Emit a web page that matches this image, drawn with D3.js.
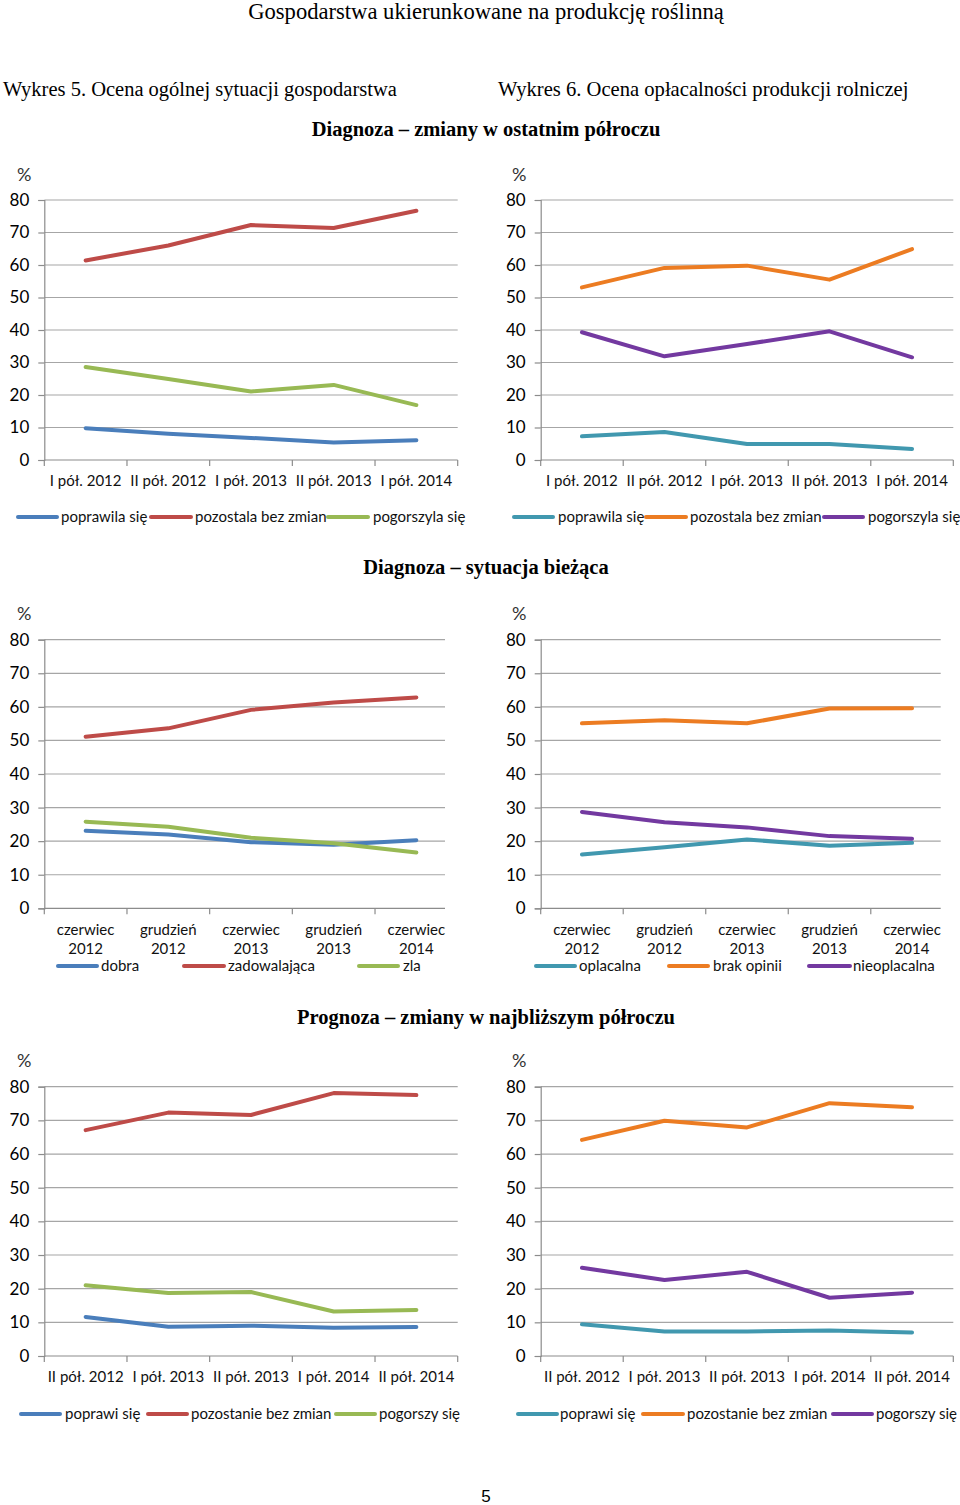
<!DOCTYPE html>
<html>
<head>
<meta charset="utf-8">
<script src="https://cdn.jsdelivr.net/npm/d3@7"></script>
<style>
  body { margin: 0; background: #fff; }
  svg { display: block; }
</style>
</head>
<body>
<div id="page"></div>
<script>
(function() {

// ---- data ----
let halfYears1 = ["I pół. 2012", "II pół. 2012", "I pół. 2013", "II pół. 2013", "I pół. 2014"];
let months = [["czerwiec", "2012"], ["grudzień", "2012"], ["czerwiec", "2013"], ["grudzień", "2013"], ["czerwiec", "2014"]];
let halfYears2 = ["II pół. 2012", "I pół. 2013", "II pół. 2013", "I pół. 2014", "II pół. 2014"];
let yTicks = [0, 10, 20, 30, 40, 50, 60, 70, 80];

// Wykres 5 - diagnoza, zmiany w ostatnim półroczu
let sit_poprawila = [9.8, 8.1, 6.8, 5.4, 6.1];
let sit_pozostala = [61.4, 66.0, 72.3, 71.4, 76.7];
let sit_pogorszyla = [28.6, 24.9, 21.1, 23.1, 16.9];
// Wykres 6 - diagnoza, zmiany w ostatnim półroczu
let opl_poprawila = [7.3, 8.6, 4.9, 4.9, 3.4];
let opl_pozostala = [53.1, 59.1, 59.8, 55.5, 64.9];
let opl_pogorszyla = [39.3, 31.9, 35.7, 39.6, 31.6];
// Wykres 5 - sytuacja bieżąca
let sit_dobra = [23.1, 22.0, 19.7, 18.9, 20.3];
let sit_zadowalajaca = [51.1, 53.6, 59.1, 61.3, 62.8];
let sit_zla = [25.8, 24.3, 21.0, 19.4, 16.6];
// Wykres 6 - sytuacja bieżąca
let opl_oplacalna = [16.0, 18.2, 20.5, 18.6, 19.5];
let opl_brakOpinii = [55.1, 56.0, 55.1, 59.5, 59.6];
let opl_nieoplacalna = [28.7, 25.6, 24.1, 21.5, 20.7];
// Wykres 5 - prognoza
let prog_sit_poprawi = [11.6, 8.7, 9.0, 8.4, 8.6];
let prog_sit_pozostanie = [67.1, 72.3, 71.6, 78.1, 77.5];
let prog_sit_pogorszy = [21.0, 18.7, 19.0, 13.2, 13.7];
// Wykres 6 - prognoza
let prog_opl_poprawi = [9.4, 7.3, 7.3, 7.6, 7.0];
let prog_opl_pozostanie = [64.2, 69.9, 67.9, 75.1, 73.9];
let prog_opl_pogorszy = [26.2, 22.6, 25.0, 17.3, 18.8];

let BLUE = "#4a7ebb", RED = "#be4b48", GREEN = "#98b954";
let TEAL = "#4198af", ORANGE = "#ec7c22", PURPLE = "#7339a0";

let chartFont = "Lato, 'Liberation Sans', sans-serif";
let serif = "'Liberation Serif', 'Times New Roman', serif";

let svg = d3.select("#page").append("svg")
  .attr("width", 960)
  .attr("height", 1505);

// page texts
function pageText(x, y, txt, size, weight, anchor) {
  svg.append("text")
    .attr("x", x).attr("y", y)
    .attr("text-anchor", anchor || "start")
    .style("font-family", serif)
    .style("font-size", size + "px")
    .style("font-weight", weight || "normal")
    .style("fill", "#000")
    .text(txt);
}
pageText(486, 19, "Gospodarstwa ukierunkowane na produkcję roślinną", 22.6, "normal", "middle");
pageText(3, 96, "Wykres 5. Ocena ogólnej sytuacji gospodarstwa", 20.5);
pageText(498, 96, "Wykres 6. Ocena opłacalności produkcji rolniczej", 20.6);
pageText(486, 136, "Diagnoza – zmiany w ostatnim półroczu", 20.5, "bold", "middle");
pageText(486, 574, "Diagnoza – sytuacja bieżąca", 20.5, "bold", "middle");
pageText(486, 1024, "Prognoza – zmiany w najbliższym półroczu", 20.5, "bold", "middle");
svg.append("text")
  .attr("x", 486).attr("y", 1502)
  .attr("text-anchor", "middle")
  .style("font-family", "'Liberation Sans', sans-serif")
  .style("font-size", "17px")
  .text("5");

function buildChart(o) {
  let g = svg.append("g");

  let x = d3.scaleBand()
    .domain(d3.range(o.categories.length))
    .range([o.x0, o.x1]);
  let y = d3.scaleLinear()
    .domain([0, 80])
    .range([o.yBottom, o.yTop]);

  // gridlines
  g.append("g")
    .selectAll("line")
    .data(yTicks.filter((d) => d > 0))
    .enter()
    .append("line")
      .attr("x1", o.x0)
      .attr("x2", o.gridEnd)
      .attr("y1", (d) => y(d))
      .attr("y2", (d) => y(d))
      .style("stroke", "#a6a6a6")
      .style("stroke-width", 1.2);

  // y axis
  let yAxis = g.append("g")
    .attr("transform", "translate(" + o.x0 + ",0)")
    .call(d3.axisLeft(y).tickValues(yTicks).tickSize(6).tickPadding(9).tickFormat(d3.format("d")));
  yAxis.select(".domain").style("stroke", "#8c8c8c").style("stroke-width", 1.2);
  yAxis.selectAll(".tick line").style("stroke", "#8c8c8c").style("stroke-width", 1.2);
  yAxis.selectAll(".tick text")
    .style("font-family", chartFont)
    .style("font-size", "17px")
    .style("fill", "#000");

  // x axis with ticks at category boundaries
  let ends = o.gridEnd < o.x1 - 1 ? d3.range(o.categories.length) : d3.range(o.categories.length + 1);
  let xb = g.append("g");
  xb.append("line")
    .attr("x1", o.x0).attr("x2", o.gridEnd)
    .attr("y1", y(0)).attr("y2", y(0))
    .style("stroke", "#8c8c8c").style("stroke-width", 1.2);
  xb.selectAll(".xt")
    .data(ends)
    .enter()
    .append("line")
      .attr("class", "xt")
      .attr("x1", (i) => o.x0 + i * x.bandwidth())
      .attr("x2", (i) => o.x0 + i * x.bandwidth())
      .attr("y1", y(0))
      .attr("y2", y(0) + 6)
      .style("stroke", "#8c8c8c").style("stroke-width", 1.2);

  // category labels
  let cats = g.append("g")
    .selectAll("text")
    .data(o.categories)
    .enter()
    .append("text")
      .attr("x", (d, i) => x(i) + x.bandwidth() / 2)
      .attr("y", o.catY)
      .attr("text-anchor", "middle")
      .style("font-family", chartFont)
      .style("font-size", "15px")
      .style("fill", "#111");
  cats.each(function(d) {
    let lines = Array.isArray(d) ? d : [d];
    let t = d3.select(this);
    lines.forEach((l, k) => {
      t.append("tspan")
        .attr("x", t.attr("x"))
        .attr("dy", k === 0 ? 0 : 19)
        .text(l);
    });
  });

  // % label
  g.append("text")
    .attr("x", o.pctX)
    .attr("y", o.pctY)
    .style("font-family", chartFont)
    .style("font-size", "18px")
    .style("fill", "#333")
    .text("%");

  // lines
  let line = d3.line()
    .x((d, i) => x(i) + x.bandwidth() / 2)
    .y((d) => y(d));
  g.append("g")
    .selectAll("path")
    .data(o.series)
    .enter()
    .append("path")
      .attr("d", (s) => line(s.values))
      .style("fill", "none")
      .style("stroke", (s) => s.color)
      .style("stroke-width", 4)
      .style("stroke-linecap", "round")
      .style("stroke-linejoin", "round");

  // legend
  let leg = g.append("g")
    .selectAll("g")
    .data(o.series)
    .enter()
    .append("g");
  leg.append("line")
    .attr("x1", (s, i) => o.legend[i][0])
    .attr("x2", (s, i) => o.legend[i][1])
    .attr("y1", o.legendY)
    .attr("y2", o.legendY)
    .style("stroke", (s) => s.color)
    .style("stroke-width", 4)
    .style("stroke-linecap", "round");
  leg.append("text")
    .attr("x", (s, i) => o.legend[i][2])
    .attr("y", o.legendY + 5)
    .style("font-family", chartFont)
    .style("font-size", "15px")
    .style("fill", "#111")
    .text((s) => s.name);
}

let L = { x0: 44.3, x1: 457.7, pctX: 17 };
let R = { x0: 540.7, x1: 953.3, pctX: 512 };

// top row
buildChart(Object.assign({}, L, {
  yTop: 200, yBottom: 460, gridEnd: 457.7, pctY: 181, catY: 486, legendY: 517,
  categories: halfYears1,
  series: [
    { name: "poprawila się", values: sit_poprawila, color: BLUE },
    { name: "pozostala bez zmian", values: sit_pozostala, color: RED },
    { name: "pogorszyla się", values: sit_pogorszyla, color: GREEN }
  ],
  legend: [[18, 57, 61], [151, 191, 195], [328, 368, 373]]
}));
buildChart(Object.assign({}, R, {
  yTop: 200, yBottom: 460, gridEnd: 953.3, pctY: 181, catY: 486, legendY: 517,
  categories: halfYears1,
  series: [
    { name: "poprawila się", values: opl_poprawila, color: TEAL },
    { name: "pozostala bez zmian", values: opl_pozostala, color: ORANGE },
    { name: "pogorszyla się", values: opl_pogorszyla, color: PURPLE }
  ],
  legend: [[514, 553, 558], [646, 686, 690], [824, 863, 868]]
}));

// middle row
buildChart(Object.assign({}, L, {
  yTop: 639.7, yBottom: 908.3, gridEnd: 445, pctY: 620, catY: 935, legendY: 966,
  categories: months,
  series: [
    { name: "dobra", values: sit_dobra, color: BLUE },
    { name: "zadowalająca", values: sit_zadowalajaca, color: RED },
    { name: "zla", values: sit_zla, color: GREEN }
  ],
  legend: [[58, 97, 101], [184, 224, 228], [359, 398, 403]]
}));
buildChart(Object.assign({}, R, {
  yTop: 639.7, yBottom: 908.3, gridEnd: 940.7, pctY: 620, catY: 935, legendY: 966,
  categories: months,
  series: [
    { name: "oplacalna", values: opl_oplacalna, color: TEAL },
    { name: "brak  opinii", values: opl_brakOpinii, color: ORANGE },
    { name: "nieoplacalna", values: opl_nieoplacalna, color: PURPLE }
  ],
  legend: [[536, 575, 579], [669, 708, 713], [809, 850, 853]]
}));

// bottom row
buildChart(Object.assign({}, L, {
  yTop: 1086.7, yBottom: 1356, gridEnd: 457.7, pctY: 1067, catY: 1382, legendY: 1414,
  categories: halfYears2,
  series: [
    { name: "poprawi się", values: prog_sit_poprawi, color: BLUE },
    { name: "pozostanie bez zmian", values: prog_sit_pozostanie, color: RED },
    { name: "pogorszy się", values: prog_sit_pogorszy, color: GREEN }
  ],
  legend: [[21, 60, 65], [148, 187, 191], [336, 375, 379]]
}));
buildChart(Object.assign({}, R, {
  yTop: 1086.7, yBottom: 1356, gridEnd: 953.3, pctY: 1067, catY: 1382, legendY: 1414,
  categories: halfYears2,
  series: [
    { name: "poprawi się", values: prog_opl_poprawi, color: TEAL },
    { name: "pozostanie bez zmian", values: prog_opl_pozostanie, color: ORANGE },
    { name: "pogorszy się", values: prog_opl_pogorszy, color: PURPLE }
  ],
  legend: [[518, 557, 560], [643, 683, 687], [833, 872, 876]]
}));

})();
</script>
</body>
</html>
